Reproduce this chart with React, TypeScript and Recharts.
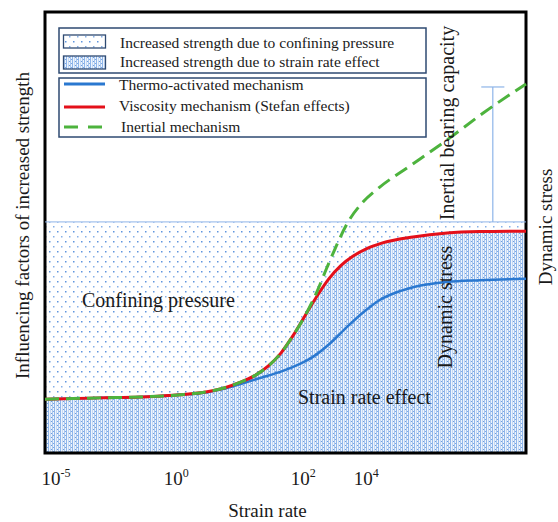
import React from "react";
import {
  ComposedChart,
  Area,
  Line,
  XAxis,
  YAxis,
  ReferenceArea,
  ReferenceLine,
} from "recharts";

const serif = "'Liberation Serif', 'Times New Roman', serif";
const ink = "#1a1a1a";

// schematic strain-rate axis (0-100) and relative strength (0-100)
const rateTicks = [2.3, 27.3, 53.7, 66.8];
const rateExponents = ["-5", "0", "2", "4"];

// viscosity mechanism (Stefan effects)
const viscX = [0, 11.4, 19.8, 28.1, 33.7, 37.4, 40.5, 43.7, 46.5, 49.0, 51.5, 54.0, 56.5, 59.0, 61.5, 64.0, 67.0, 70.0, 76.5, 83.6, 90.4, 100];
const viscY = [12.2, 12.5, 12.7, 13.2, 13.9, 14.8, 16.0, 17.6, 19.8, 22.6, 26.5, 31.0, 35.5, 39.5, 42.5, 44.6, 46.4, 47.6, 49.0, 49.9, 50.2, 50.3];

// thermo-activated mechanism
const thermoX = [0, 11.4, 19.8, 28.1, 33.7, 37.4, 40.5, 44.7, 48.9, 53.0, 55.7, 59.3, 62.8, 66.5, 69.6, 73.8, 76.5, 83.6, 90.4, 100];
const thermoY = [12.2, 12.5, 12.7, 13.2, 13.8, 14.6, 15.6, 17.0, 18.4, 20.2, 21.8, 24.9, 28.6, 32.2, 34.7, 36.7, 37.6, 38.8, 39.2, 39.5];

// inertial mechanism
const inertX = [0, 11.4, 19.8, 28.1, 33.7, 37.4, 40.5, 43.7, 46.5, 49.0, 51.5, 54.0, 56.5, 58.6, 60.3, 62.8, 66.1, 69.6, 75.9, 83.6, 91.1, 100];
const inertY = [12.2, 12.5, 12.7, 13.2, 13.9, 14.8, 16.0, 17.6, 19.8, 22.6, 26.5, 31.0, 36.5, 42.0, 46.3, 52.0, 56.9, 60.3, 65.1, 71.0, 77.1, 83.7];

// confining-pressure level and the inertial bearing capacity bracket
const confiningLevel = 52.4;
const inertialTop = 83.0;
const bracketX = 93.1;
const capHalf = 2.4;

const zip = (xs: number[], ys: number[]) => xs.map((x, i) => ({ x, y: ys[i] }));
const viscData = zip(viscX, viscY);
const thermoData = zip(thermoX, thermoY);
const inertData = zip(inertX, inertY);

const RateTick = (props: any) => {
  const { x, y, payload } = props;
  const exp = rateExponents[rateTicks.indexOf(payload.value)];
  return (
    <text x={x} y={y + 24} textAnchor="middle" fontFamily={serif} fontSize={19} fill={ink}>
      10
      <tspan dy={-8} fontSize={12}>
        {exp}
      </tspan>
    </text>
  );
};

const XTitle = (props: any) => {
  const { viewBox } = props;
  return (
    <text
      x={viewBox.x + viewBox.width / 2 - 18}
      y={viewBox.y + 64}
      textAnchor="middle"
      fontFamily={serif}
      fontSize={19}
      fill={ink}
    >
      Strain rate
    </text>
  );
};

const YTitle = (props: any) => {
  const { viewBox } = props;
  const cx = 28.5;
  const cy = viewBox.y + viewBox.height / 2 - 7;
  return (
    <text
      x={cx}
      y={cy}
      transform={`rotate(-90, ${cx}, ${cy})`}
      textAnchor="middle"
      fontFamily={serif}
      fontSize={19}
      fill={ink}
    >
      Influencing factors of increased strength
    </text>
  );
};

const Patterns = () => (
  <defs>
    <pattern id="dots" width="8" height="10" patternUnits="userSpaceOnUse">
      <rect x="1" y="1" width="1.5" height="1.5" fill="#5f95de" />
      <rect x="5" y="6" width="1.5" height="1.5" fill="#86b0e8" />
    </pattern>
    <pattern id="stripes" width="6" height="4" patternUnits="userSpaceOnUse">
      <rect width="6" height="4" fill="#eef4fc" />
      <rect x="0" width="1" height="4" fill="#8fb6ea" />
      <rect x="2" width="1" height="4" fill="#c3d8f4" />
      <rect x="4" width="1" height="4" fill="#a9c7ef" />
      <rect x="3" y="1" width="1" height="1" fill="#6b9ce0" />
      <rect x="5" y="3" width="1" height="1" fill="#7ca8e4" />
    </pattern>
  </defs>
);

const legendBorder = "#2e4a72";

const Annotations = () => (
  <svg
    width={558}
    height={522}
    style={{ position: "absolute", left: 0, top: 0, pointerEvents: "none" }}
    fontFamily={serif}
    fill={ink}
  >
    {/* legend: filled regions */}
    <rect x={59} y={28} width={367} height={45} fill="#fff" stroke={legendBorder} strokeWidth={1.5} />
    <rect x={63.5} y={35} width={42} height={13} fill="url(#dots)" stroke={legendBorder} strokeWidth={1.3} />
    <rect x={63.5} y={56} width={42} height={13} fill="url(#stripes)" stroke={legendBorder} strokeWidth={1.3} />
    <text x={120} y={48} fontSize={15.5}>Increased strength due to confining pressure</text>
    <text x={120} y={67} fontSize={15.5}>Increased strength due to strain rate effect</text>

    {/* legend: mechanisms */}
    <rect x={59} y={78} width={367} height={59} fill="#fff" stroke={legendBorder} strokeWidth={1.5} />
    <line x1={64} x2={105} y1={84} y2={84} stroke="#2a78d0" strokeWidth={3} />
    <line x1={64} x2={105} y1={107} y2={107} stroke="#e4101a" strokeWidth={3} />
    <line x1={64} x2={105} y1={127} y2={127} stroke="#4db33d" strokeWidth={3} strokeDasharray="14 10" />
    <text x={119} y={90} fontSize={15.5}>Thermo-activated mechanism</text>
    <text x={119} y={111} fontSize={15.5}>Viscosity mechanism (Stefan effects)</text>
    <text x={121} y={132} fontSize={15.5}>Inertial mechanism</text>

    {/* region and level labels */}
    <text x={82} y={307} fontSize={20}>Confining pressure</text>
    <text x={298} y={404} fontSize={20}>Strain rate effect</text>
    <text x={454} y={123} fontSize={20} textAnchor="middle" transform="rotate(-90, 454, 123)">
      Inertial bearing capacity
    </text>
    <text x={452} y={307} fontSize={20} textAnchor="middle" transform="rotate(-90, 452, 307)">
      Dynamic stress
    </text>
    <text x={552} y={227} fontSize={19} textAnchor="middle" transform="rotate(-90, 552, 227)">
      Dynamic stress
    </text>
  </svg>
);

export default function App() {
  return (
    <div style={{ position: "absolute", left: 0, top: 0, width: 558, height: 522, background: "#fff" }}>
      <ComposedChart
        width={558}
        height={522}
        data={viscData}
        margin={{ top: 12, right: 32, left: 0, bottom: 0 }}
      >
        <Patterns />
        <XAxis
          dataKey="x"
          type="number"
          domain={[0, 100]}
          ticks={rateTicks}
          interval={0}
          tick={<RateTick />}
          axisLine={false}
          tickLine={false}
          height={69}
          label={{ content: <XTitle /> }}
        />
        <YAxis
          type="number"
          domain={[0, 100]}
          width={45}
          tick={false}
          axisLine={false}
          tickLine={false}
          label={{ content: <YTitle /> }}
        />
        <ReferenceArea x1={0} x2={100} y1={0} y2={confiningLevel} fill="url(#dots)" fillOpacity={1} stroke="none" />
        <ReferenceLine y={confiningLevel} stroke="#8fb4e8" strokeWidth={1} />
        <Area
          type="monotone"
          dataKey="y"
          fill="url(#stripes)"
          fillOpacity={1}
          stroke="none"
          isAnimationActive={false}
        />
        <ReferenceLine
          segment={[
            { x: bracketX, y: confiningLevel },
            { x: bracketX, y: inertialTop },
          ]}
          stroke="#8db4e8"
          strokeWidth={1.2}
        />
        <ReferenceLine
          segment={[
            { x: bracketX - capHalf, y: inertialTop },
            { x: bracketX + capHalf, y: inertialTop },
          ]}
          stroke="#8db4e8"
          strokeWidth={1.2}
        />
        <Line
          data={thermoData}
          type="monotone"
          dataKey="y"
          stroke="#2a78d0"
          strokeWidth={2.5}
          dot={false}
          isAnimationActive={false}
        />
        <Line
          data={viscData}
          type="monotone"
          dataKey="y"
          stroke="#e4101a"
          strokeWidth={3}
          dot={false}
          isAnimationActive={false}
        />
        <Line
          data={inertData}
          type="monotone"
          dataKey="y"
          stroke="#4db33d"
          strokeWidth={3}
          strokeDasharray="14 7"
          dot={false}
          isAnimationActive={false}
        />
        <ReferenceArea x1={0} x2={100} y1={0} y2={100} fill="none" stroke="#000" strokeWidth={3} />
      </ComposedChart>
      <Annotations />
    </div>
  );
}
